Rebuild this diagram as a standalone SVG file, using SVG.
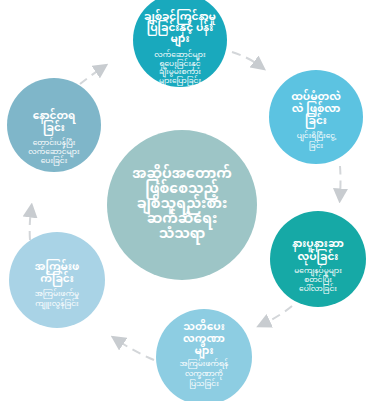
<svg xmlns="http://www.w3.org/2000/svg" width="369" height="401" viewBox="0 0 369 401">
<defs>
<marker id="arr" viewBox="0 0 10 10" refX="5" refY="5" markerWidth="15" markerHeight="15" markerUnits="userSpaceOnUse" orient="auto">
<path d="M0,0 L10,5 L0,10 Z" fill="#c8ccd0"/>
</marker>
<style>
.t{font-family:"Noto Sans Myanmar","Padauk","Myanmar Text","Noto Sans",sans-serif;fill:#ffffff;text-anchor:middle;font-weight:bold;font-size:10.5px}
.s{font-family:"Noto Sans Myanmar","Padauk","Myanmar Text","Noto Sans",sans-serif;fill:#ffffff;text-anchor:middle;font-size:7.5px}
.c{font-family:"Noto Sans Myanmar","Padauk","Myanmar Text","Noto Sans",sans-serif;fill:#ffffff;text-anchor:middle;font-weight:bold;font-size:14px}
.con{fill:none;stroke:#d3d6d9;stroke-width:2;stroke-dasharray:9 6;marker-end:url(#arr)}
</style>
</defs>
<rect width="369" height="401" fill="#ffffff"/>
<g id="connectors">
<path class="con" d="M232,52 Q248,57 260,66"/>
<path class="con" d="M340,166 Q341,180 340,196"/>
<path class="con" d="M292,306 Q280,316 263,324"/>
<path class="con" d="M154,360 Q135,352 117,340"/>
<path class="con" d="M30,240 Q29,226 31,210"/>
<path class="con" d="M80,84 Q90,76 102,68"/>
</g>
<g id="center">
<circle cx="182" cy="205" r="75" fill="#9dc5c6"/>
<text class="c" x="182" y="178">အဆိုပ်အတောက်</text>
<text class="c" x="182" y="193">ဖြစ်စေသည့်</text>
<text class="c" x="182" y="208">ချစ်သူရည်းစား</text>
<text class="c" x="182" y="223">ဆက်ဆံရေး</text>
<text class="c" x="182" y="238">သံသရာ</text>
</g>
<g id="n1">
<circle cx="180" cy="40" r="47" fill="#19a9bd"/>
<text class="t" x="180" y="20">ချစ်ခင်ကြင်နာမှု</text>
<text class="t" x="180" y="31">ပြခြင်းနှင့် ပန်း</text>
<text class="t" x="180" y="42">များ</text>
<text class="s" x="180" y="57">လက်ဆောင်များ</text>
<text class="s" x="180" y="65.5">ရှပေးခြင်းနှင့်</text>
<text class="s" x="180" y="74">ချီးမွမ်းစကား</text>
<text class="s" x="180" y="82.5">များပြောခြင်း</text>
</g>
<g id="n2">
<circle cx="316" cy="117" r="47" fill="#5cc3e1"/>
<text class="t" x="316" y="100">ထပ်မံတလဲ</text>
<text class="t" x="316" y="112">လဲ ဖြစ်လာ</text>
<text class="t" x="316" y="124">ခြင်း</text>
<text class="s" x="316" y="138">ပျင်းရိငြီးငွေ့</text>
<text class="s" x="316" y="148">ခြင်း</text>
</g>
<g id="n3">
<circle cx="318" cy="259" r="48" fill="#16a9a6"/>
<text class="t" x="318" y="247">နားပူနားဆာ</text>
<text class="t" x="318" y="260">လုပ်ခြင်း</text>
<text class="s" x="318" y="273">မကျေနပ်မှုများ</text>
<text class="s" x="318" y="282">စတင်ပြီး</text>
<text class="s" x="318" y="291">ပေါ်လာခြင်း</text>
</g>
<g id="n4">
<circle cx="204" cy="357" r="48" fill="#8dcde2"/>
<text class="t" x="204" y="330">သတိပေး</text>
<text class="t" x="204" y="342">လက္ခဏာ</text>
<text class="t" x="204" y="354">များ</text>
<text class="s" x="204" y="366">အကြမ်းဖက်ရန်</text>
<text class="s" x="204" y="376">လက္ခဏာကို</text>
<text class="s" x="204" y="386">ပြသခြင်း</text>
</g>
<g id="n5">
<circle cx="57" cy="280" r="48" fill="#a9d3e6"/>
<text class="t" x="57" y="270">အကြမ်းဖ</text>
<text class="t" x="57" y="282">က်ခြင်း</text>
<text class="s" x="57" y="296">အကြမ်းဖက်မှု</text>
<text class="s" x="57" y="306">ကျူးလွန်ခြင်း</text>
</g>
<g id="n6">
<circle cx="54" cy="125" r="47" fill="#7fb6c9"/>
<text class="t" x="54" y="119">နောင်တရ</text>
<text class="t" x="54" y="131">ခြင်း</text>
<text class="s" x="54" y="145">တောင်းပန်ပြီး</text>
<text class="s" x="54" y="154">လက်ဆောင်များ</text>
<text class="s" x="54" y="163">ပေးခြင်း</text>
</g>
</svg>
